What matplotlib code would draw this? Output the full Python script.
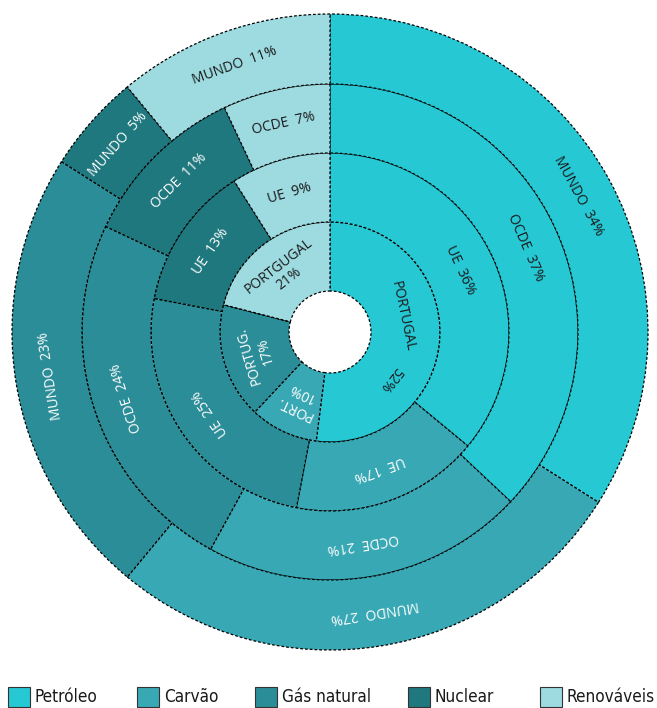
import numpy as np
import matplotlib.pyplot as plt
from matplotlib import font_manager
from matplotlib.patches import Rectangle

fuels = ['Petróleo', 'Carvão', 'Gás natural', 'Nuclear', 'Renováveis']
colors = ['#26c8d4', '#38a8b4', '#2b8d97', '#1f787e', '#9ddbe1']
text_colors = ['#1a1a1a', 'white', 'white', 'white', '#1a1a1a']

# shares (%) per ring, order of fuels, clockwise from 12 o'clock
portugal = [52, 10, 17, 0, 21]
ue = [36, 17, 25, 13, 9]
ocde = [37, 21, 24, 11, 7]
mundo = [34, 27, 23, 5, 11]

portugal_labels = [None, 'PORT.\n10%', 'PORTUG.\n17%', None, 'PORTGUGAL\n21%']
ue_labels = ['UE  36%', 'UE  17%', 'UE  25%', 'UE  13%', 'UE  9%']
ocde_labels = ['OCDE  37%', 'OCDE  21%', 'OCDE  24%', 'OCDE  11%', 'OCDE  7%']
mundo_labels = ['MUNDO  34%', 'MUNDO  27%', 'MUNDO  23%', 'MUNDO  5%', 'MUNDO  11%']

rings = [(portugal, portugal_labels), (ue, ue_labels),
         (ocde, ocde_labels), (mundo, mundo_labels)]
radii = [41, 110, 179, 248, 318]

# a narrow face for the legend if one is installed
narrow = None
for f in font_manager.fontManager.ttflist:
    if f.stretch in ('condensed', 'semi-condensed', 'extra-condensed') or 'Condensed' in f.name or 'Narrow' in f.name:
        if f.weight in (400, 'normal', 'regular') and f.style == 'normal':
            narrow = f.fname
            break
if narrow:
    leg_font = dict(fontproperties=font_manager.FontProperties(fname=narrow, size=12.3))
else:
    leg_font = dict(family='Roboto', fontsize=11.5)

fig = plt.figure(figsize=(6.57, 7.08), dpi=100)
ax = fig.add_axes([0, 0, 1, 1])

dash = (0, (2.2, 1.6))
for i, (vals, labels) in enumerate(rings):
    r_in, r_out = radii[i], radii[i + 1]
    ax.pie(vals, radius=r_out, startangle=90, counterclock=False, colors=colors,
           wedgeprops=dict(width=r_out - r_in, edgecolor='black',
                           linewidth=0.9, linestyle=dash))
    rm = (r_in + r_out) / 2
    start = 90.0
    for j, v in enumerate(vals):
        mid = start - v * 3.6 / 2
        start -= v * 3.6
        if labels[j] is None:
            continue
        a = np.deg2rad(mid)
        ax.text(rm * np.cos(a), rm * np.sin(a), labels[j], rotation=mid - 90,
                ha='center', va='center', rotation_mode='anchor',
                fontsize=10, color=text_colors[j], family='Open Sans',
                linespacing=1.15)

# Portugal oil label is spread along its arc
for word, ang, rr in [('PORTUGAL', 12, 74), ('52%', -38, 77)]:
    a = np.deg2rad(ang)
    ax.text(rr * np.cos(a), rr * np.sin(a), word, rotation=ang - 90,
            ha='center', va='center', rotation_mode='anchor',
            fontsize=10, color='#1a1a1a', family='Open Sans')

ax.set_xlim(-330, 327)
ax.set_ylim(-376, 332)
ax.set_aspect('equal')
ax.set_axis_off()

# legend
leg_x = [8, 137, 255, 408, 540]
for x0, name, c in zip(leg_x, fuels, colors):
    ax.add_patch(Rectangle((x0 - 330, 332 - 707), 22, 20, facecolor=c,
                           edgecolor='#333333', linewidth=0.8, clip_on=False))
    ax.text(x0 - 330 + 27, 332 - 697, name, ha='left', va='center',
            color='#1a1a1a', **leg_font)

fig.savefig('out.png', dpi=100)
